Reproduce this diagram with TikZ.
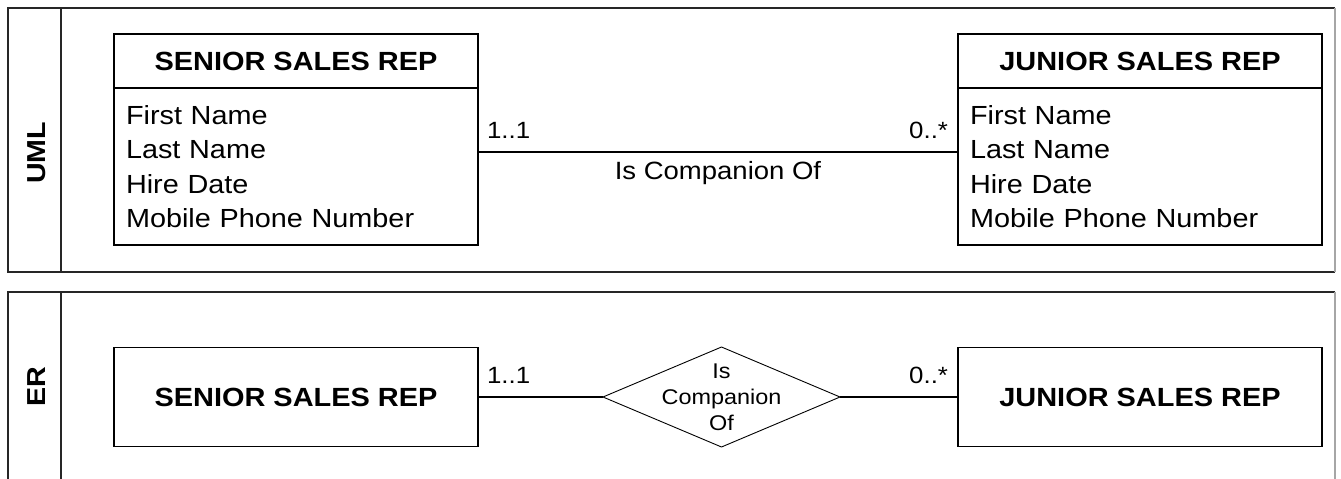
\documentclass[tikz,border=0pt]{standalone}
\usepackage{fontspec}
\setmainfont[FakeStretch=1.1]{Liberation Sans}
\usetikzlibrary{shapes.geometric,calc}
\begin{document}
\begin{tikzpicture}[x=1pt,y=-1pt,
  every node/.style={outer sep=0pt},
  panel/.style={line width=1.6pt, draw=black!85},
  hdrbox/.style={draw, line width=1.8pt, minimum width=364pt, minimum height=54pt, inner sep=0pt,
    font=\fontsize{26.3}{30}\selectfont\bfseries},
  bodybox/.style={draw, line width=1.8pt, minimum width=364pt, minimum height=157pt, inner sep=0pt,
    text width=340pt, align=left, font=\fontsize{26.2}{34.3}\selectfont},
  erbox/.style={draw, line width=1.8pt, minimum width=364pt, minimum height=99pt, inner sep=0pt,
    font=\fontsize{26.3}{30}\selectfont\bfseries},
  rel/.style={draw, diamond, line width=0.9pt, minimum width=237pt, minimum height=100pt, inner sep=0pt},
  conn/.style={line width=1.6pt},
  mult/.style={font=\fontsize{23.5}{27}\selectfont, inner sep=0pt},
  reltext/.style={font=\fontsize{25}{28}\selectfont, inner sep=0pt},
  dtext/.style={font=\fontsize{21.3}{26}\selectfont, align=center, inner sep=0pt},
  tag/.style={rotate=90, font=\fontsize{26}{30}\selectfont\bfseries, inner sep=0pt}
]
\useasboundingbox (0,0) rectangle (1341,479);
% UML panel
\draw[panel] (1335,8) -- (8,8) -- (8,272) -- (1335,272);
\draw[panel, draw=black!35] (1335,8) -- (1335,272);
\draw[panel] (61,8) -- (61,272);
\node[tag] (uml) at (37,153) {UML};
% ER panel
\draw[panel] (8,479) -- (8,292) -- (1335,292);
\draw[panel, draw=black!35] (1335,292) -- (1335,479);
\draw[panel] (61,292) -- (61,479);
\node[tag] (er) at (37,387) {ER};

% UML classes
\node[hdrbox] (s1h) at (296,61) {SENIOR SALES REP};
\node[bodybox, anchor=north] (s1b) at (s1h.south) {First Name\\Last Name\\Hire Date\\Mobile Phone Number};
\node[hdrbox] (j1h) at (1140,61) {JUNIOR SALES REP};
\node[bodybox, anchor=north] (j1b) at (j1h.south) {First Name\\Last Name\\Hire Date\\Mobile Phone Number};
\draw[conn] ([yshift=14.5pt]s1b.east) coordinate (ua) -- ([yshift=14.5pt]j1b.west) coordinate (ub);
\node[mult, anchor=base west] (m1) at ([xshift=9pt, yshift=13.5pt]ua) {1..1};
\node[mult, anchor=base east] (m2) at ([xshift=-10pt, yshift=13.5pt]ub) {0..*};
\node[reltext] (rl) at ($(ua)!0.5!(ub)+(0,21)$) {Is Companion Of};

% ER
\node[erbox] (s2) at (296,397) {SENIOR SALES REP};
\node[erbox] (j2) at (1140,397) {JUNIOR SALES REP};
\node[rel] (d) at (721.5,397) {};
\node[dtext] (dt) at (d.center) {Is\\Companion\\Of};
\draw[conn] (s2.east) -- (d.west);
\draw[conn] (d.east) -- (j2.west);
\node[mult, anchor=base west] (m3) at ([xshift=9pt, yshift=13.5pt]s2.east) {1..1};
\node[mult, anchor=base east] (m4) at ([xshift=-10pt, yshift=13.5pt]j2.west) {0..*};
\end{tikzpicture}
\end{document}
